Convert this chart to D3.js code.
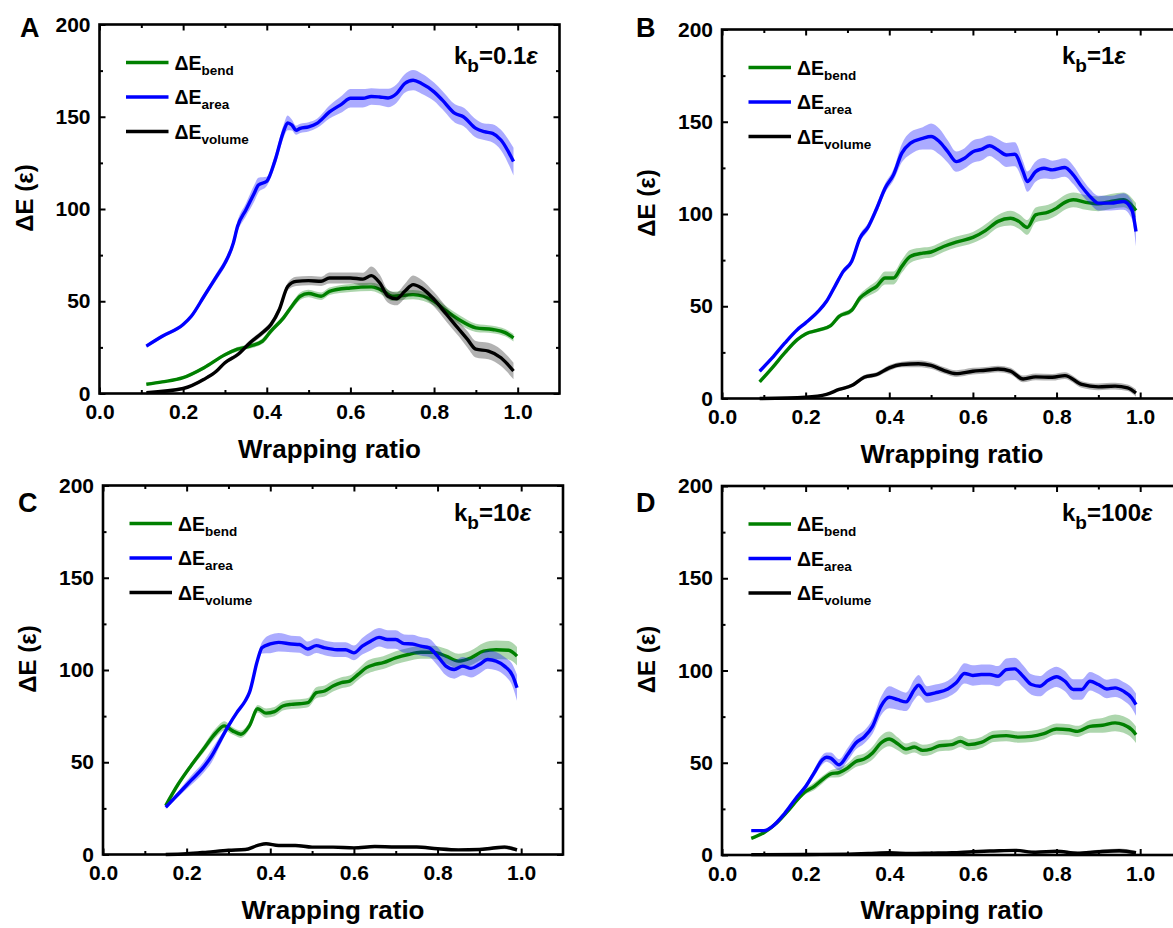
<!DOCTYPE html>
<html><head><meta charset="utf-8">
<script src="https://cdn.jsdelivr.net/npm/d3@7"></script>
<style>
body{margin:0;background:#fff}
svg text{font-family:"Liberation Sans",Arial,sans-serif;font-weight:bold;fill:#000}
</style></head><body>
<svg id="chart" width="1173" height="928"></svg>
<script>
// ---------------- DATA ----------------
const xTicks = [0, 0.2, 0.4, 0.6, 0.8, 1.0];
const xMinor = [0.1, 0.3, 0.5, 0.7, 0.9];
const yTicks = [0, 50, 100, 150, 200];
const yMinor = [25, 75, 125, 175];
const seriesNames = ["bend", "area", "volume"];
const panelLetters = ["A", "B", "C", "D"];
const kbValues = ["0.1", "1", "10", "100"];

// Panel A (kb = 0.1)
const A_bend_x = [0.112,0.15,0.2,0.25,0.3,0.33,0.36,0.39,0.41,0.44,0.46,0.48,0.5,0.53,0.55,0.6,0.65,0.68,0.7,0.75,0.8,0.83,0.86,0.9,0.94,0.97,0.99];
const A_bend_y = [5,6.3,8.6,14,21,24,25.7,28.4,33.8,41,47.3,52.7,54.2,52.7,55.4,57.2,57.8,55.4,52.7,53.6,50,44.6,40,35.6,34.7,33,30.2];
const A_bend_e = [0.5,0.6,0.8,1,1,1.2,1.3,1.5,1.5,1.5,1.8,2,2,2,2,2.2,2.2,2.5,2.5,2.5,2.5,2.5,2.5,2.2,2,2,2];
const A_area_x = [0.112,0.15,0.2,0.22,0.25,0.28,0.3,0.32,0.33,0.35,0.37,0.38,0.4,0.42,0.44,0.45,0.46,0.47,0.48,0.5,0.52,0.55,0.58,0.6,0.63,0.65,0.67,0.69,0.71,0.73,0.75,0.77,0.8,0.82,0.85,0.87,0.9,0.92,0.94,0.96,0.99];
const A_area_y = [25.7,31,37.4,42,52.7,63.5,70.7,81.5,90.5,99.5,108.5,113,115,126.5,142,146.7,145.5,142.7,143.7,144.5,146.4,152.6,157,160,160,161,160.7,160.2,162.5,168,169.8,168,163.5,159,151.8,150,143.7,141.9,141,137.4,125.7];
const A_area_e = [0.8,1,1,1.2,1.5,2,2,2.5,3,3.5,4.5,4,2.5,3,3.5,4,3,2.5,2.5,2.5,2.5,3.5,4.5,5,5,4.5,4.5,5,5,5,5.5,5.5,5,5,5,5,5,4.5,5,5.5,7.5];
const A_volume_x = [0.112,0.2,0.25,0.28,0.3,0.33,0.36,0.39,0.41,0.43,0.45,0.47,0.5,0.53,0.55,0.6,0.63,0.65,0.67,0.69,0.71,0.73,0.75,0.77,0.8,0.83,0.86,0.88,0.9,0.93,0.96,0.99];
const A_volume_y = [0.5,2.7,7.7,12.2,16.7,21,27.5,33,37.4,45.5,58,60.8,61.2,60.8,62.6,62.6,62,63.9,60,52.7,51.3,55.4,59,57.2,51,42.8,34.7,29.3,24,23,19.4,12.2];
const A_volume_e = [0.3,0.5,0.8,1,1,1.2,1.5,1.5,1.8,2,2,2.5,2.5,2.5,3,3,3.5,5,4.5,3.5,3.5,4,5,4.5,4,4,4,4.5,4.5,4.5,4.5,4.5];

// Panel B (kb = 1)
const B_bend_x = [0.09,0.12,0.15,0.18,0.2,0.23,0.26,0.28,0.31,0.33,0.35,0.37,0.39,0.41,0.43,0.45,0.48,0.5,0.53,0.56,0.6,0.63,0.66,0.69,0.71,0.73,0.75,0.78,0.8,0.82,0.84,0.87,0.9,0.93,0.96,0.99];
const B_bend_y = [9,16.6,24.7,31.9,35,37,39.5,44.5,47.8,54.5,58,60.8,65.3,65.3,71.6,77,78.8,79.4,82.4,84.8,87.3,91,96,97.7,96,92.7,99.5,101,103.2,106.3,107.7,106.3,105.5,106.8,107.7,101.9];
const B_bend_e = [0.5,0.5,0.6,0.8,1,1,1,1.2,1.5,2,2.5,3,3.5,3.5,3.5,3.5,3,3,3,3,3,3.5,3.5,4,4,4,4,4,4,4,4,4,4,4,4,4];
const B_area_x = [0.09,0.12,0.15,0.18,0.2,0.23,0.25,0.27,0.29,0.31,0.33,0.35,0.37,0.39,0.41,0.43,0.45,0.48,0.5,0.52,0.54,0.56,0.58,0.6,0.62,0.64,0.66,0.68,0.7,0.72,0.73,0.75,0.77,0.79,0.82,0.84,0.86,0.88,0.9,0.93,0.96,0.98,0.99];
const B_area_y = [14.8,22,30,37.3,41,47.2,52.7,60.8,68.9,74.3,87,93.2,103,114,121.2,133,138.3,141,142,139.2,133.8,128.4,130.2,133.8,135,137,134.7,132,132.4,123,117.6,123,124.8,123.9,125.2,121.2,114.9,109.5,105.9,105.9,106.8,102.3,90.5];
const B_area_e = [0.5,0.6,0.7,0.8,1,1,1.2,1.5,1.5,1.5,2,2,2.5,2.5,3,5,6,6,7,7,6,5.5,5.5,6,6,5.5,6,6.5,6.5,5.5,5.5,5.5,5.5,5,5,5,4.5,4,4,4,4.5,5,8];
const B_volume_x = [0.09,0.2,0.25,0.28,0.31,0.34,0.37,0.4,0.43,0.47,0.5,0.53,0.56,0.6,0.63,0.66,0.69,0.72,0.75,0.79,0.82,0.86,0.9,0.94,0.97,0.99];
const B_volume_y = [0,0.7,2.2,4.9,7,11.5,13,16.6,18.4,18.8,17.9,15.3,13.5,14.8,15.3,16,14.8,10.6,11.7,11.5,12.4,7.6,6.3,6.7,5.8,3];
const B_volume_e = [0.2,0.3,0.5,0.8,1,1.2,1.2,1.5,1.5,1.8,1.8,1.8,1.8,1.8,1.8,1.8,1.8,1.8,1.8,1.8,1.8,1.8,1.8,1.8,1.8,2];

// Panel C (kb = 10)
const C_bend_x = [0.15,0.18,0.21,0.24,0.27,0.29,0.31,0.33,0.35,0.37,0.39,0.41,0.43,0.45,0.47,0.49,0.51,0.53,0.55,0.57,0.59,0.61,0.63,0.65,0.67,0.7,0.73,0.76,0.79,0.82,0.85,0.88,0.91,0.94,0.97,0.99];
const C_bend_y = [26.5,38.2,48,57,66,69.7,67,65.2,69.7,79,76.6,77.4,80.5,81.4,81.7,82.3,87.7,88.6,91.3,93.1,94,97.6,101.3,103,104,106.6,108.4,109.6,109.6,107.5,104.8,106.6,110.2,111,110.7,107.5];
const C_bend_e = [0.5,1,1.5,2,2.5,2.5,2,2,2,2,2.5,2.5,2.5,2.5,2.5,2.5,3,3,3,3,3,3,3.5,3.5,3.5,3.5,3.5,3.5,3.5,4,4,4,4.5,5,5,5];
const C_area_x = [0.15,0.18,0.21,0.24,0.26,0.28,0.3,0.32,0.34,0.35,0.37,0.38,0.4,0.42,0.45,0.47,0.49,0.51,0.53,0.56,0.58,0.6,0.62,0.64,0.66,0.68,0.7,0.72,0.74,0.76,0.78,0.8,0.82,0.84,0.86,0.88,0.9,0.92,0.94,0.96,0.98,0.99];
const C_area_y = [25.6,32.8,40,47.2,53.5,61.6,69.7,76.9,83.2,87.7,105.7,112,114.1,115,114.1,113.8,111.4,113.2,112,111,111,109.3,112.9,115.6,117.7,116.5,116.5,114.3,114.1,112.9,112,107.5,102.1,100.3,102.1,100.9,103,105.7,104.8,102.1,96.7,90.4];
const C_area_e = [0.8,1.5,2.5,3,3.5,2.5,1.5,1,1,1,2,3,5,5,4.5,4.5,4,4,4,4,4,4,4.5,5,5,5,5,5,5,5,5,5,5,5,5,5,5,5,5,5,6,7];
const C_volume_x = [0.15,0.2,0.25,0.3,0.34,0.37,0.39,0.42,0.46,0.5,0.55,0.6,0.65,0.7,0.75,0.8,0.85,0.9,0.93,0.96,0.99];
const C_volume_y = [0,0.4,1.3,2.3,2.7,4.9,5.8,4.9,4.9,4,4,3.6,4.3,4.1,4.1,3.1,2.5,2.7,3.4,4,2.5];
const C_volume_e = [0.2,0.3,0.4,0.5,0.5,0.6,0.6,0.6,0.6,0.6,0.6,0.6,0.6,0.6,0.6,0.6,0.6,0.8,1,1.2,1];

// Panel D (kb = 100)
const D_bend_x = [0.07,0.1,0.13,0.16,0.18,0.2,0.22,0.24,0.26,0.28,0.3,0.32,0.34,0.36,0.38,0.4,0.42,0.44,0.46,0.48,0.5,0.52,0.55,0.57,0.59,0.62,0.65,0.68,0.71,0.74,0.77,0.8,0.83,0.85,0.88,0.91,0.94,0.96,0.98,0.99];
const D_bend_y = [9,12.1,17.2,24.5,29.9,34.4,37.1,40.8,44,44.7,47.1,50.7,52,55.3,60.7,62.9,60.3,57.4,58.5,56.7,57.4,59.2,59.8,61.6,59.8,61,64.3,64.7,63.9,64.3,65.8,68.3,67.9,67,69.7,70.3,71.6,70.7,67.9,65.2];
const D_bend_e = [0.5,0.6,0.8,1,1.2,1.5,2,2,2,2.5,2.5,3,3,3.5,4,4,3.5,3,3,3,3,3,3,3,3,3,3,3,3,3,3,3,3,3,3.5,4,4.5,4.5,4.5,4.5];
const D_area_x = [0.07,0.1,0.12,0.15,0.18,0.2,0.22,0.24,0.25,0.26,0.28,0.3,0.32,0.34,0.36,0.38,0.4,0.42,0.44,0.46,0.47,0.49,0.51,0.54,0.56,0.58,0.6,0.62,0.64,0.66,0.68,0.7,0.72,0.74,0.76,0.78,0.8,0.82,0.84,0.86,0.88,0.9,0.92,0.94,0.96,0.98,0.99];
const D_area_y = [13.2,13.2,15.4,22.6,31.7,37.1,44.4,51.6,53,52.5,48.9,54.3,60.7,64,69.7,80.6,85.5,84.2,83,89.7,92,87,87.9,90,93.3,98.4,97.3,97.8,97.8,96.9,100.5,100.9,96.9,92.4,91.5,94.7,96.6,94.2,89.7,89.7,94.2,92.4,90,90.6,88.8,85.1,81.5];
const D_area_e = [0.5,0.5,0.6,0.8,1,1.5,2,2.5,2.5,3,3,3.5,3.5,3.5,4,5,6,5.5,5,5.5,5.5,4.5,4.5,4.5,5,5.5,5.5,5.5,5.5,5.5,6,6,6,5.5,5.5,5.5,5.5,5.5,5.5,5.5,5,5,5,5,5,5.5,6];
const D_volume_x = [0.07,0.2,0.3,0.35,0.4,0.45,0.5,0.55,0.6,0.65,0.7,0.75,0.8,0.85,0.9,0.95,0.99];
const D_volume_y = [0.2,0.3,0.5,0.8,1.2,0.8,1,1.2,1.8,2.2,2.5,1.5,2,1,1.8,2.3,1.2];
const D_volume_e = [0.1,0.2,0.3,0.4,0.5,0.5,0.5,0.5,0.6,0.6,0.7,0.7,0.7,0.8,1,1.2,1];

// ---------------- BUILD ----------------
const dataByPanel = {
  A: {bend:[A_bend_x,A_bend_y,A_bend_e], area:[A_area_x,A_area_y,A_area_e], volume:[A_volume_x,A_volume_y,A_volume_e]},
  B: {bend:[B_bend_x,B_bend_y,B_bend_e], area:[B_area_x,B_area_y,B_area_e], volume:[B_volume_x,B_volume_y,B_volume_e]},
  C: {bend:[C_bend_x,C_bend_y,C_bend_e], area:[C_area_x,C_area_y,C_area_e], volume:[C_volume_x,C_volume_y,C_volume_e]},
  D: {bend:[D_bend_x,D_bend_y,D_bend_e], area:[D_area_x,D_area_y,D_area_e], volume:[D_volume_x,D_volume_y,D_volume_e]}
};
const colors = {bend:"#008000", area:"#0000ff", volume:"#000000"};
const bandOpacity = {bend:0.32, area:0.33, volume:0.3};

const layout = {
  A:{left:99.5, top:24.5, lx:20, ly:37, kx:454, ky:64},
  B:{left:722,  top:29.5, lx:636, ly:37, kx:1062, ky:64},
  C:{left:103,  top:485.5, lx:18, ly:512, kx:454, ky:521},
  D:{left:722,  top:486, lx:636, ly:512, kx:1062, ky:521}
};
const W = 460, H = 369;

const svg = d3.select("#chart");

panelLetters.forEach((L, pi) => {
  const lay = layout[L];
  const x = d3.scaleLinear().domain([0, 1.1]).range([0, W]);
  const y = d3.scaleLinear().domain([0, 200]).range([H, 0]);
  const g = svg.append("g").attr("transform", `translate(${lay.left},${lay.top})`);

  // series
  seriesNames.forEach(s => {
    const [xs, ys, es] = dataByPanel[L][s];
    const pts = xs.map((v, i) => ({x: v, y: ys[i], e: es[i]}));
    const area = d3.area().x(d => x(d.x)).y0(d => y(d.y - d.e)).y1(d => y(d.y + d.e)).curve(d3.curveMonotoneX);
    const line = d3.line().x(d => x(d.x)).y(d => y(d.y)).curve(d3.curveMonotoneX);
    g.append("path").attr("d", area(pts)).attr("fill", colors[s]).attr("fill-opacity", bandOpacity[s]).attr("stroke", "none");
    g.append("path").attr("d", line(pts)).attr("fill", "none").attr("stroke", colors[s]).attr("stroke-width", 3.4).attr("stroke-linejoin", "round");
  });

  // axes
  const styleAxis = sel => {
    sel.select(".domain").remove();
    sel.selectAll(".tick line").attr("stroke", "#000").attr("stroke-width", 2);
    sel.selectAll(".tick text").style("font-family", '"Liberation Sans", Arial, sans-serif').style("font-weight", "bold").style("font-size", "21px").attr("fill", "#000");
  };
  g.append("g").attr("transform", `translate(0,${H})`)
    .call(d3.axisBottom(x).tickValues(xTicks).tickFormat(d3.format(".1f")).tickSize(-6).tickSizeOuter(0).tickPadding(11)).call(styleAxis);
  g.append("g").attr("transform", `translate(0,${H})`)
    .call(d3.axisBottom(x).tickValues(xMinor).tickFormat("").tickSize(-3.5).tickSizeOuter(0)).call(styleAxis);
  g.append("g")
    .call(d3.axisTop(x).tickValues(xTicks).tickFormat("").tickSize(-6).tickSizeOuter(0)).call(styleAxis);
  g.append("g")
    .call(d3.axisTop(x).tickValues(xMinor).tickFormat("").tickSize(-3.5).tickSizeOuter(0)).call(styleAxis);
  g.append("g")
    .call(d3.axisLeft(y).tickValues(yTicks).tickSize(-6).tickSizeOuter(0).tickPadding(9)).call(styleAxis);
  g.append("g")
    .call(d3.axisLeft(y).tickValues(yMinor).tickFormat("").tickSize(-3.5).tickSizeOuter(0)).call(styleAxis);
  g.append("g").attr("transform", `translate(${W},0)`)
    .call(d3.axisRight(y).tickValues(yTicks).tickFormat("").tickSize(-6).tickSizeOuter(0)).call(styleAxis);
  g.append("g").attr("transform", `translate(${W},0)`)
    .call(d3.axisRight(y).tickValues(yMinor).tickFormat("").tickSize(-3.5).tickSizeOuter(0)).call(styleAxis);

  // frame
  g.append("rect").attr("x", 0).attr("y", 0).attr("width", W).attr("height", H)
    .attr("fill", "none").attr("stroke", "#000").attr("stroke-width", 2.6);

  // axis titles
  g.append("text").attr("x", W / 2).attr("y", H + 64).attr("text-anchor", "middle")
    .style("font-size", "26px").text("Wrapping ratio");
  g.append("text").attr("transform", `translate(-67,${H / 2 - 11}) rotate(-90)`).attr("text-anchor", "middle")
    .style("font-size", "24px").text("ΔE (ε)");

  // legend
  seriesNames.forEach((s, i) => {
    const ly = 38 + i * 34.5;
    g.append("line").attr("x1", 26.5).attr("x2", 69).attr("y1", ly).attr("y2", ly)
      .attr("stroke", colors[s]).attr("stroke-width", 3.5);
    const t = g.append("text").attr("x", 75).attr("y", ly + 7).style("font-size", "19.5px");
    t.append("tspan").text("ΔE");
    t.append("tspan").attr("dy", 5).style("font-size", "13.5px").text(s);
  });

  // panel letter
  svg.append("text").attr("x", lay.lx).attr("y", lay.ly).style("font-size", "27px").text(L);

  // kb label
  const kt = svg.append("text").attr("x", lay.kx).attr("y", lay.ky).style("font-size", "24px");
  kt.append("tspan").text("k");
  kt.append("tspan").attr("dy", 8).style("font-size", "19px").text("b");
  kt.append("tspan").attr("dy", -8).text("=" + kbValues[pi]);
  kt.append("tspan").style("font-style", "italic").text("ε");
});
</script>
</body></html>
